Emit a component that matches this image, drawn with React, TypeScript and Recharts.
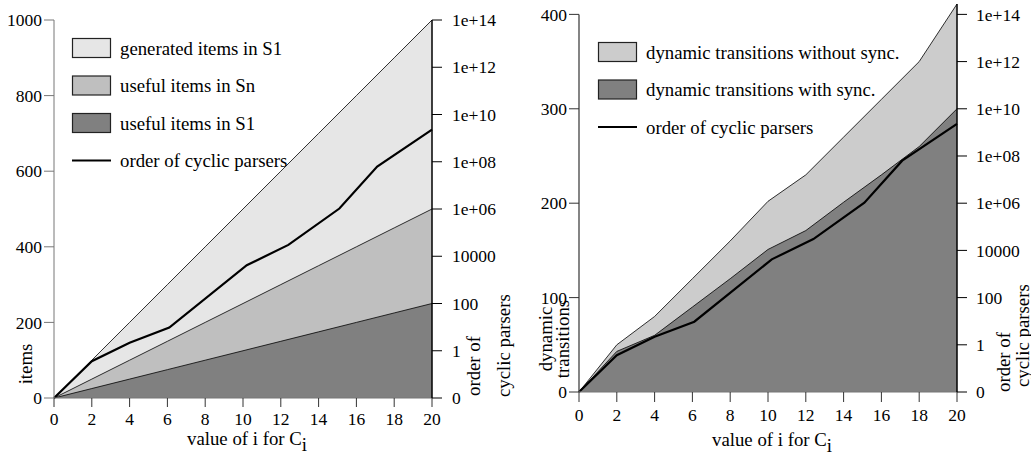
import React from 'react';
import { ComposedChart, Area, Line, XAxis, YAxis, ReferenceLine, Legend } from 'recharts';

// ---- data ----
const xValues = [0, 2, 4, 6, 8, 10, 12, 14, 16, 18, 20];
const generatedItemsS1 = [0, 100, 200, 300, 400, 500, 600, 700, 800, 900, 1000];
const usefulItemsSn = [0, 50, 100, 150, 200, 250, 300, 350, 400, 450, 500];
const usefulItemsS1 = [0, 25, 50, 75, 100, 125, 150, 175, 200, 225, 250];
const transitionsWithoutSync = [0, 50, 80, 120, 160, 202, 230, 270, 310, 350, 411];
const transitionsWithSync = [0, 43, 60, 90, 120, 151, 171, 201, 230, 260, 300];
const cyclicX = [0, 2, 4, 6.1, 10.2, 12.4, 15.1, 17.1, 20];
// position of the line on the right axis, in tick steps (0, 1, 100, 10000, ...)
const cyclicOrderLevel = [0, 0.78, 1.17, 1.49, 2.81, 3.24, 4.01, 4.9, 5.68];
const orderTickLabels = ['0', '1', '100', '10000', '1e+06', '1e+08', '1e+10', '1e+12', '1e+14'];
const orderTicks = [0, 1, 2, 3, 4, 5, 6, 7, 8];
const itemTicks = [0, 200, 400, 600, 800, 1000];
const transitionTicks = [0, 100, 200, 300, 400];
const xTicks = [0, 2, 4, 6, 8, 10, 12, 14, 16, 18, 20];

const FONT = "'Liberation Serif', 'Liberation Sans', sans-serif";
const FS = 18.8;
const TFS = 17.5;

type Row = { x: number; [k: string]: number | null };

function buildRows(series: Record<string, number[]>): Row[] {
  const xs = Array.from(new Set([...xValues, ...cyclicX])).sort((a, b) => a - b);
  return xs.map((x) => {
    const row: Row = { x };
    Object.keys(series).forEach((k) => {
      const i = xValues.indexOf(x);
      row[k] = i >= 0 ? series[k][i] : null;
    });
    const j = cyclicX.indexOf(x);
    row.cyclic = j >= 0 ? cyclicOrderLevel[j] : null;
    return row;
  });
}

const leftRows = buildRows({ gen: generatedItemsS1, sn: usefulItemsSn, s1: usefulItemsS1 });
const rightRows = buildRows({ without: transitionsWithoutSync, withs: transitionsWithSync });

type LegendItem = { label: string; kind: 'box' | 'line'; fill?: string };

const leftLegend: LegendItem[] = [
  { label: 'generated items in S1', kind: 'box', fill: '#e6e6e6' },
  { label: 'useful items in Sn', kind: 'box', fill: '#bfbfbf' },
  { label: 'useful items in S1', kind: 'box', fill: '#808080' },
  { label: 'order of cyclic parsers', kind: 'line' },
];
const rightLegend: LegendItem[] = [
  { label: 'dynamic transitions without sync.', kind: 'box', fill: '#cccccc' },
  { label: 'dynamic transitions with sync.', kind: 'box', fill: '#808080' },
  { label: 'order of cyclic parsers', kind: 'line' },
];

const LegendBlock = ({ items }: { items: LegendItem[] }) => (
  <svg width={340} height={items.length * 37.5 + 4} style={{ display: 'block', overflow: 'visible' }}>
    {items.map((it, i) => {
      const cy = 10 + i * 37.5;
      return (
        <g key={it.label}>
          {it.kind === 'box' ? (
            <rect x={0.5} y={cy - 9.5} width={38} height={19} fill={it.fill} stroke="#222" strokeWidth={1.2} />
          ) : (
            <line x1={0} x2={39} y1={cy} y2={cy} stroke="#000" strokeWidth={2.2} />
          )}
          <text x={48} y={cy} dominantBaseline="central" fontFamily={FONT} fontSize={FS} fill="#000">
            {it.label}
          </text>
        </g>
      );
    })}
  </svg>
);

const tickStyle = { fill: '#000', fontSize: TFS, fontFamily: FONT };

const rotatedText = (x: number, y: number, s: string, anchor: 'start' | 'middle') => (
  <text
    x={x}
    y={y}
    transform={`rotate(-90 ${x} ${y})`}
    textAnchor={anchor}
    dominantBaseline="central"
    fontFamily={FONT}
    fontSize={FS}
    fill="#000"
  >
    {s}
  </text>
);

const xTitle = (cx: number, y: number) => (
  <text x={cx} y={y} textAnchor="middle" fontFamily={FONT} fontSize={FS} fill="#000">
    value of i for C
    <tspan dy={6}>i</tspan>
  </text>
);

const LeftChart = () => (
  <ComposedChart width={515} height={458} data={leftRows} margin={{ top: 20, right: 0, bottom: 0, left: 0 }}>
    <XAxis
      dataKey="x"
      type="number"
      domain={[0, 20]}
      ticks={xTicks}
      height={60}
      tickSize={9}
      tickMargin={6}
      tick={tickStyle}
      stroke="#777"
      tickLine={{ stroke: '#333' }}
      label={() => xTitle(247, 445)}
    />
    <YAxis
      yAxisId="left"
      orientation="left"
      width={54}
      domain={[0, 1000]}
      ticks={itemTicks}
      tickSize={10}
      tickMargin={2}
      tick={tickStyle}
      stroke="#777"
      label={() => rotatedText(25, 364, 'items', 'middle')}
    />
    <YAxis
      yAxisId="right"
      orientation="right"
      width={83}
      domain={[0, 8]}
      ticks={orderTicks}
      tickFormatter={(v: number) => orderTickLabels[v] ?? ''}
      tickSize={10}
      tickMargin={10}
      tick={tickStyle}
      axisLine={{ stroke: '#000', strokeWidth: 1.5 }}
      tickLine={{ stroke: '#000' }}
      label={() => (
        <g>
          {rotatedText(473, 396, 'order of', 'start')}
          {rotatedText(503, 397, 'cyclic parsers', 'start')}
        </g>
      )}
    />
    <Area yAxisId="left" type="linear" dataKey="gen" fill="#e6e6e6" fillOpacity={1} stroke="#000" strokeWidth={0.8} connectNulls isAnimationActive={false} dot={false} activeDot={false} />
    <Area yAxisId="left" type="linear" dataKey="sn" fill="#bfbfbf" fillOpacity={1} stroke="#000" strokeWidth={0.8} connectNulls isAnimationActive={false} dot={false} activeDot={false} />
    <Area yAxisId="left" type="linear" dataKey="s1" fill="#808080" fillOpacity={1} stroke="#000" strokeWidth={0.8} connectNulls isAnimationActive={false} dot={false} activeDot={false} />
    <Line yAxisId="right" type="linear" dataKey="cyclic" stroke="#000" strokeWidth={2.2} connectNulls dot={false} activeDot={false} isAnimationActive={false} />
    <Legend
      layout="vertical"
      align="center"
      verticalAlign="middle"
      wrapperStyle={{ left: 72, top: 38, width: 340, height: 160 }}
      content={() => <LegendBlock items={leftLegend} />}
    />
  </ComposedChart>
);

const RightChart = () => (
  <ComposedChart width={516} height={458} data={rightRows} margin={{ top: 4, right: 0, bottom: 0, left: 0 }}>
    <XAxis
      dataKey="x"
      type="number"
      domain={[0, 20]}
      ticks={xTicks}
      height={66}
      tickSize={10}
      tickMargin={7}
      tick={tickStyle}
      stroke="#777"
      tickLine={{ stroke: '#333' }}
      label={() => xTitle(257, 446)}
    />
    <YAxis
      yAxisId="left"
      orientation="left"
      width={64}
      domain={[0, 411]}
      ticks={transitionTicks}
      tickSize={10}
      tickMargin={2}
      tick={tickStyle}
      axisLine={false}
      tickLine={{ stroke: '#333' }}
      label={() => (
        <g>
          {rotatedText(30, 339, 'dynamic', 'middle')}
          {rotatedText(47, 339, 'transitions', 'middle')}
        </g>
      )}
    />
    <YAxis
      yAxisId="right"
      orientation="right"
      width={74}
      domain={[0, 8.22]}
      ticks={orderTicks}
      tickFormatter={(v: number) => orderTickLabels[v] ?? ''}
      tickSize={10}
      tickMargin={9}
      tick={tickStyle}
      axisLine={{ stroke: '#000', strokeWidth: 1.5 }}
      tickLine={{ stroke: '#000' }}
      label={() => (
        <g>
          {rotatedText(488, 392, 'order of', 'start')}
          {rotatedText(507, 387, 'cyclic parsers', 'start')}
        </g>
      )}
    />
    <Area yAxisId="left" type="linear" dataKey="without" fill="#cccccc" fillOpacity={1} stroke="#000" strokeWidth={0.8} connectNulls isAnimationActive={false} dot={false} activeDot={false} />
    <Area yAxisId="left" type="linear" dataKey="withs" fill="#808080" fillOpacity={1} stroke="#000" strokeWidth={0.8} connectNulls isAnimationActive={false} dot={false} activeDot={false} />
    <Line yAxisId="right" type="linear" dataKey="cyclic" stroke="#000" strokeWidth={2.2} connectNulls dot={false} activeDot={false} isAnimationActive={false} />
    <ReferenceLine yAxisId="left" segment={[{ x: 0, y: 0 }, { x: 0, y: 400 }]} stroke="#333" strokeWidth={1.2} />
    <Legend
      layout="vertical"
      align="center"
      verticalAlign="middle"
      wrapperStyle={{ left: 83, top: 42, width: 340, height: 130 }}
      content={() => <LegendBlock items={rightLegend} />}
    />
  </ComposedChart>
);

export default function App() {
  return (
    <div style={{ position: 'absolute', left: 0, top: 0, width: 1031, height: 458, background: '#fff' }}>
      <div style={{ position: 'absolute', left: 0, top: 0 }}>
        <LeftChart />
      </div>
      <div style={{ position: 'absolute', left: 515, top: 0 }}>
        <RightChart />
      </div>
    </div>
  );
}
